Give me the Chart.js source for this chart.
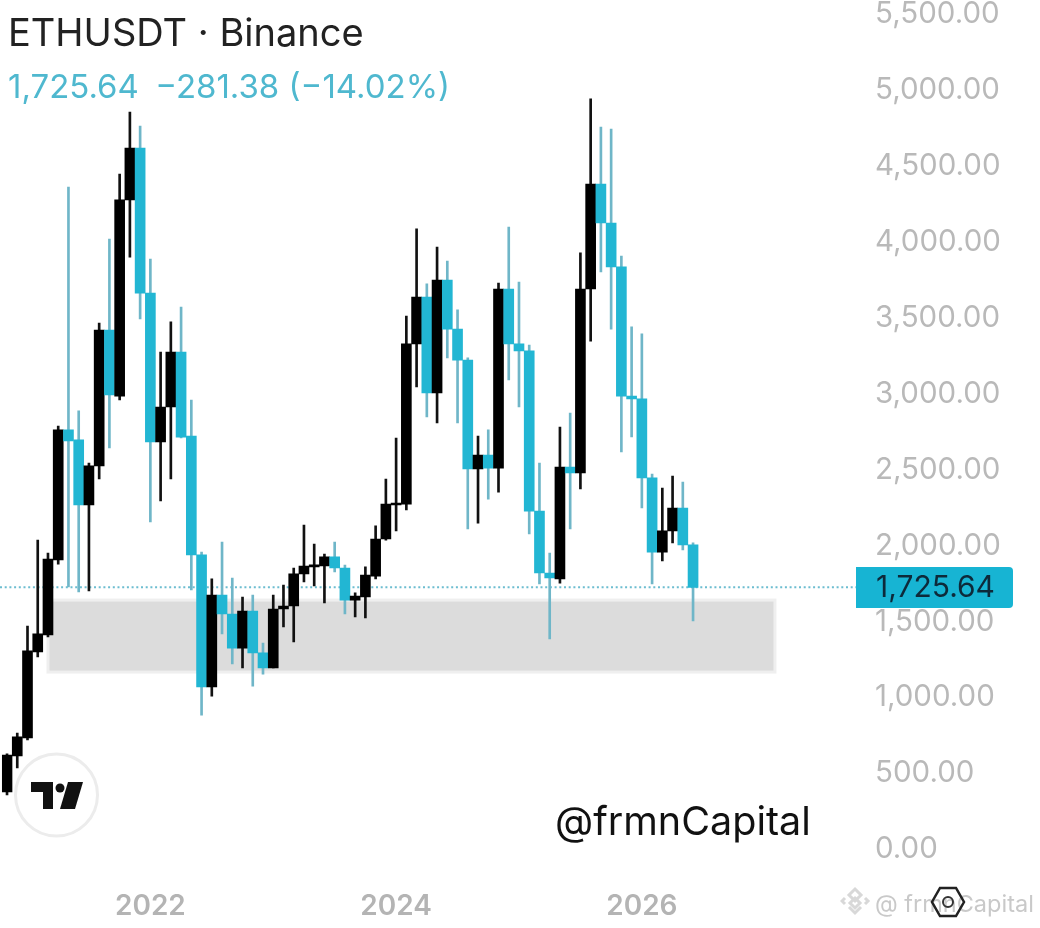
<!DOCTYPE html>
<html>
<head>
<meta charset="utf-8">
<title>ETHUSDT Binance</title>
<script src="https://cdn.jsdelivr.net/npm/chart.js@4"></script>
<style>
  html, body { margin: 0; padding: 0; background: #fff; }
  #wrap { position: relative; width: 1040px; height: 928px; overflow: hidden; font-family: Inter, sans-serif; }
  #chart { position: absolute; left: 0; top: 0; }
  .txt { position: absolute; white-space: nowrap; line-height: 1; }
  #pair { left: 8px; top: 13px; font-size: 38px; color: #222; }
  #change { left: 8px; top: 70px; font-size: 33px; color: #4fb8cf; }
  #change span { margin-left: 7px; }
  #handle { left: 555px; top: 802px; font-size: 39.5px; color: #111; }
  #tag { position: absolute; left: 856px; top: 567px; width: 157px; height: 41px; background: #17b4d3; border-radius: 0 4px 4px 0; }
  #tagtxt { left: 876px; top: 571px; font-size: 30px; color: #0d2a3a; }
  #wm { left: 875px; top: 892px; font-size: 23.5px; color: #c9c9c9; }
  svg { position: absolute; }
</style>
</head>
<body>
<div id="wrap">
  <canvas id="chart" width="1040" height="928"></canvas>
  <div class="txt" id="pair">ETHUSDT · Binance</div>
  <div class="txt" id="change">1,725.64 <span>−281.38</span> (−14.02%)</div>
  <div class="txt" id="handle">@frmnCapital</div>
  <div id="tag"></div>
  <div class="txt" id="tagtxt">1,725.64</div>
  <svg style="left:0;top:750px" width="100" height="90" viewBox="0 0 100 90">
    <circle cx="56.5" cy="45" r="41" fill="#fff" stroke="#ececec" stroke-width="3"/>
    <path d="M31 32h22v27H43V42H31z" fill="#111"/>
    <circle cx="60" cy="38" r="4.5" fill="#111"/>
    <path d="M68 32h15L75 59H60z" fill="#111"/>
  </svg>
  <svg style="left:840px;top:886px" width="32" height="32" viewBox="0 0 32 32">
    <g fill="none" stroke="#d8d8d8" stroke-width="3">
      <path d="M15 3l6 6-6 6-6-6z"/><path d="M15 12l5 5-5 5-5-5z"/><path d="M5 12l-3 3 3 3"/><path d="M25 12l3 3-3 3"/><path d="M9 21l6 6 6-6"/>
    </g>
  </svg>
  <div class="txt" id="wm">@ frmnCapital</div>
  <svg style="left:930px;top:886px" width="36" height="32" viewBox="0 0 36 32">
    <path d="M10 2h16l8 14-8 14H10L2 16z" fill="none" stroke="#222" stroke-width="2.5"/>
    <circle cx="18" cy="16" r="5" fill="none" stroke="#333" stroke-width="2"/>
  </svg>
</div>
<script>
// monthly candles, trailing months are empty space before the price axis
const months = [
  '2020-11','2020-12',
  '2021-01','2021-02','2021-03','2021-04','2021-05','2021-06','2021-07','2021-08','2021-09','2021-10','2021-11','2021-12',
  '2022-01','2022-02','2022-03','2022-04','2022-05','2022-06','2022-07','2022-08','2022-09','2022-10','2022-11','2022-12',
  '2023-01','2023-02','2023-03','2023-04','2023-05','2023-06','2023-07','2023-08','2023-09','2023-10','2023-11','2023-12',
  '2024-01','2024-02','2024-03','2024-04','2024-05','2024-06','2024-07','2024-08','2024-09','2024-10','2024-11','2024-12',
  '2025-01','2025-02','2025-03','2025-04','2025-05','2025-06','2025-07','2025-08','2025-09','2025-10','2025-11','2025-12',
  '2026-01','2026-02','2026-03','2026-04','2026-05','2026-06','2026-07','2026-08','2026-09','2026-10','2026-11','2026-12',
  '2027-01','2027-02','2027-03','2027-04','2027-05','2027-06','2027-07','2027-08','2027-09','2027-10'
];

const opens = [379,616,734,1300,1412,1906,2762,2696,2268,2525,3420,2985,4276,4618,3663,2683,2913,3275,2722,1939,
  1070,1675,1550,1326,1570,1294,1195,1583,1603,1814,1860,1866,1926,1853,1642,1662,1800,2044,2268,2274,
  3328,3637,3005,3749,3426,3222,2505,2597,2511,3690,3328,3282,2228,1820,1781,2518,2479,3690,4381,4124,
  3835,2985,2966,2446,1958,2097,2248,2005];
const closes = [622,741,1307,1419,1912,2762,2689,2268,2525,3420,2992,4276,4618,3663,2683,2913,3275,2715,1939,1070,
  1675,1550,1326,1570,1294,1195,1583,1603,1814,1866,1873,1926,1853,1642,1669,1807,2044,2274,2281,3328,
  3637,3005,3749,3426,3222,2505,2597,2511,3690,3328,3282,2228,1820,1787,2518,2479,3690,4381,4124,3835,
  2985,2966,2446,1958,2097,2248,2005,1725.64];
const highs = [629,767,1471,2037,1952,2788,4361,2887,2544,3466,4019,4447,4855,4763,3887,3275,3473,3571,2959,1958,
  1781,2024,1787,1662,1675,1359,1675,1741,1853,2136,2011,1945,2024,1873,1689,1860,2130,2439,2709,3512,
  4085,3723,3966,3874,3552,3236,2722,2762,3729,4098,3736,3321,2544,1952,2781,2873,3927,4941,4756,4743,
  3907,3440,3394,2472,2380,2459,2419,2018];
const lows = [359,537,721,1267,1399,1879,1728,1695,1702,2439,2643,2959,3900,3492,2156,2294,2439,2709,1708,885,
  1010,1419,1221,1195,1076,1155,1195,1465,1366,1761,1735,1623,1827,1550,1531,1524,1781,2037,2097,2235,
  3045,2847,2808,3236,2808,2110,2149,2307,2353,3091,2913,2077,1748,1386,1754,2110,2373,3347,3802,3426,
  2617,2716,2248,1748,1899,2018,1972,1504];

const lastPrice = 1725.64;
const yTicksMax = 5500;
// grey support zone
const zoneTop = 1642;
const zoneBottom = 1168;
const zoneFrom = '2021-03';
const zoneTo = '2027-02';

const upColor = '#000000';
const downColor = '#22b6d3';
const upWick = '#111111';
const downWick = '#6fb6c8';

const isUp = opens.map((o, i) => closes[i] >= o);

const zonePlugin = {
  id: 'zone',
  beforeDatasetsDraw(chart) {
    const { ctx, scales: { x, y }, chartArea } = chart;
    const x1 = x.getPixelForValue(months.indexOf(zoneFrom));
    const x2 = x.getPixelForValue(months.indexOf(zoneTo));
    const y1 = y.getPixelForValue(zoneTop);
    const y2 = y.getPixelForValue(zoneBottom);
    ctx.save();
    ctx.fillStyle = '#dcdcdc';
    ctx.strokeStyle = '#efefef';
    ctx.lineWidth = 3;
    ctx.fillRect(x1, y1, x2 - x1, y2 - y1);
    ctx.strokeRect(x1, y1, x2 - x1, y2 - y1);
    // dotted last price line
    const py = y.getPixelForValue(lastPrice);
    ctx.strokeStyle = '#6cbdd0';
    ctx.lineWidth = 2;
    ctx.setLineDash([2, 2.7]);
    ctx.beginPath();
    ctx.moveTo(0, py);
    ctx.lineTo(chartArea.right - 6, py);
    ctx.stroke();
    ctx.restore();
  }
};

new Chart(document.getElementById('chart'), {
  type: 'bar',
  data: {
    labels: months,
    datasets: [
      {
        label: 'body',
        data: opens.map((o, i) => [o, closes[i]]),
        backgroundColor: isUp.map(u => u ? upColor : downColor),
        barThickness: 10,
        grouped: false,
        minBarLength: 2,
        order: 0
      },
      {
        label: 'wick',
        data: lows.map((l, i) => [l, highs[i]]),
        backgroundColor: isUp.map(u => u ? upWick : downWick),
        barThickness: 2,
        grouped: false,
        order: 1
      }
    ]
  },
  options: {
    responsive: false,
    animation: false,
    layout: { padding: { left: 1.9, top: 14, right: 0, bottom: 0 } },
    plugins: { legend: { display: false }, tooltip: { enabled: false } },
    scales: {
      x: {
        grid: { display: false },
        border: { display: false },
        afterFit: s => { s.height = 78.5; s.paddingLeft = 0; s.paddingRight = 0; },
        ticks: {
          autoSkip: false,
          maxRotation: 0,
          padding: 32,
          color: '#b4b4b4',
          font: { family: 'Inter', size: 28, weight: '600' },
          callback(v) {
            const m = months[v];
            return m.endsWith('-01') && +m.slice(0, 4) % 2 === 0 ? m.slice(0, 4) : '';
          }
        }
      },
      y: {
        position: 'right',
        min: 0,
        max: yTicksMax,
        grid: { display: false },
        border: { display: false },
        afterFit: s => { s.width = 178; s.paddingTop = 0; s.paddingBottom = 0; },
        ticks: {
          stepSize: 500,
          padding: 5,
          color: '#b9b9b9',
          font: { family: 'Inter', size: 29.5 },
          callback: v => v.toLocaleString('en-US', { minimumFractionDigits: 2, maximumFractionDigits: 2 })
        }
      }
    }
  },
  plugins: [zonePlugin]
});
</script>
</body>
</html>
